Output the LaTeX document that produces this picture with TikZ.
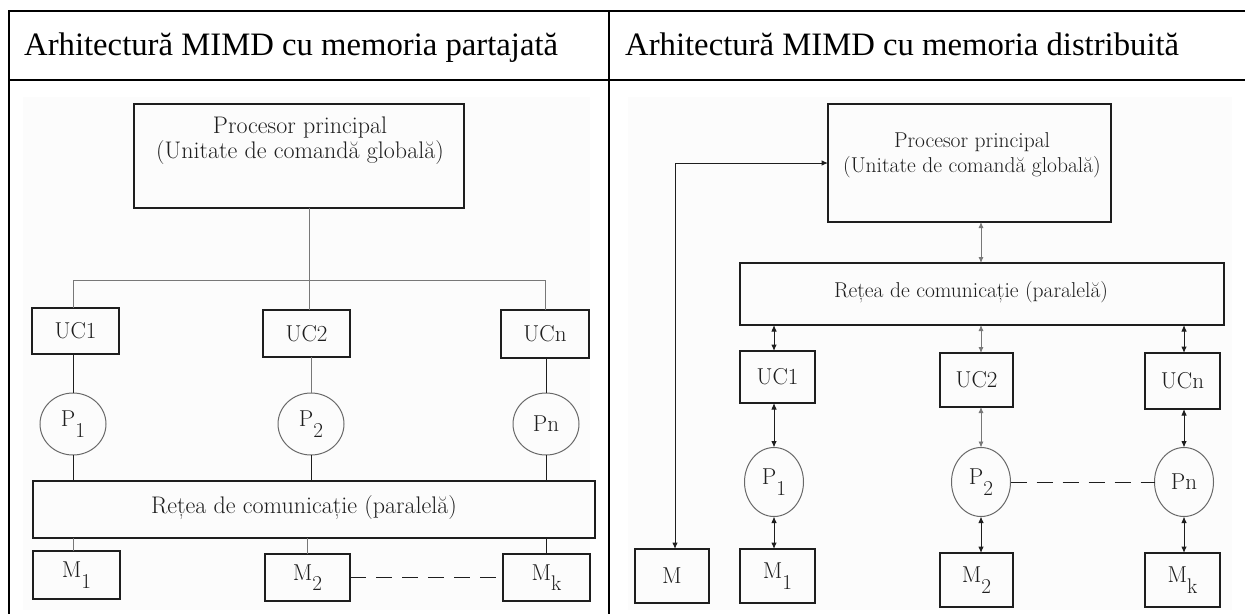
\documentclass[tikz,border=0pt]{standalone}
\usepackage{fontspec}
\newfontfamily\headfont{Liberation Serif}
\usetikzlibrary{arrows.meta,shapes.geometric}
\definecolor{ink}{RGB}{30,30,30}
\definecolor{softink}{RGB}{120,120,120}
\definecolor{ringink}{RGB}{105,105,105}
\definecolor{panel}{RGB}{252,252,252}
% lowered, slightly reduced index used in the labels P1, M1, ...
\newcommand{\lowidx}[1]{\raisebox{-0.45em}{\scalebox{0.92}{#1}}}
\begin{document}
\begin{tikzpicture}[x=1pt,y=-1pt,
  rule/.style={line width=2pt,black},
  panelbg/.style={fill=panel,draw=none},
  box/.style={draw=ink,line width=1.1pt,inner sep=0pt,outer sep=0pt,text=ink},
  proc/.style={ellipse,draw=ringink,line width=1pt,inner sep=0pt,outer sep=0pt,text=ink},
  lbig/.style={font=\fontsize{23}{25}\selectfont,text=ink},
  ltitleL/.style={font=\fontsize{24}{25}\selectfont,text=ink},
  ltitleR/.style={font=\fontsize{21.5}{25}\selectfont,text=ink},
  link/.style={draw=ink,line width=1pt},
  softlink/.style={draw=softink,line width=0.9pt},
  arr/.style={draw=ink,line width=1pt,{Latex[length=6.5pt,width=5.5pt]}-{Latex[length=6.5pt,width=5.5pt]}},
  softarr/.style={draw=softink,line width=0.8pt,{Latex[length=6pt,width=5pt]}-{Latex[length=6pt,width=5pt]}},
  dashlink/.style={draw=ink,line width=1pt,dash pattern=on 16pt off 10pt},
  head/.style={font=\headfont\fontsize{32.7}{36}\selectfont,anchor=base west,inner sep=0pt}
]
\useasboundingbox (0,0) rectangle (1245,614);

% ---------------- table frame and headings ----------------
\fill[panelbg] (23,97) rectangle (590,610);
\fill[panelbg] (628,97) rectangle (1232,610);
\draw[rule] (8,11) -- (1245,11);
\draw[rule] (8,80) -- (1245,80);
\draw[rule] (9,10) -- (9,614);
\draw[rule] (609,10) -- (609,614);
\node[head] (hL) at (24,55) {Arhitectură MIMD cu memoria partajată};
\node[head] (hR) at (625,55) {Arhitectură MIMD cu memoria distribuită};

% ---------------- shared memory ----------------
\node[box,minimum width=330pt,minimum height=104pt] (topL) at (299,156) {};
\node[ltitleL,align=center] (topLt) at (300,141) {Procesor principal\\(Unitate de comandă globală)};

\node[box,minimum width=87pt,minimum height=46pt,lbig] (UC1) at (75.5,331) {UC1};
\node[box,minimum width=87pt,minimum height=47pt,lbig] (UC2) at (306.5,333.5) {UC2};
\node[box,minimum width=88pt,minimum height=48pt,lbig] (UCn) at (545,334) {UCn};

\node[proc,minimum width=66pt,minimum height=62pt,lbig] (P1) at (73,424) {P\lowidx{1}};
\node[proc,minimum width=66pt,minimum height=62pt,lbig] (P2) at (311,424) {P\lowidx{2}};
\node[proc,minimum width=66pt,minimum height=62pt,lbig] (Pn) at (546,424) {Pn};

\node[box,minimum width=562pt,minimum height=57pt] (netL) at (314,509.5) {};
\node[ltitleL] (netLt) at (304,508) {Rețea de comunicație (paralelă)};

\node[box,minimum width=87pt,minimum height=48pt,lbig] (M1) at (76.5,575) {M\lowidx{1}};
\node[box,minimum width=85pt,minimum height=47pt,lbig] (M2) at (307.5,577.5) {M\lowidx{2}};
\node[box,minimum width=87pt,minimum height=47pt,lbig] (Mk) at (546.5,577.5) {M\lowidx{k}};

\coordinate (jL) at (309,280);
\draw[softlink] (topL.south -| jL) -- (jL);
\draw[softlink] (UC1.north -| P1) |- (UCn.north |- jL) -- (UCn.north);
\draw[softlink] (jL) -- (UC2.north -| jL);
\draw[link] (UC1.south -| P1) -- (P1.north);
\draw[softlink] (UC2.south -| P2) -- (P2.north);
\draw[link] (UCn.south -| Pn) -- (Pn.north);
\draw[link] (P1.south) -- (netL.north -| P1);
\draw[link] (P2.south) -- (netL.north -| P2);
\draw[link] (Pn.south) -- (netL.north -| Pn);
\draw[softlink] (netL.south -| P1) -- (M1.north -| P1);
\draw[softlink] (netL.south -| M2) -- (M2.north);
\draw[link] (netL.south -| Pn) -- (Mk.north -| Pn);
\draw[dashlink] (M2.east) -- (Mk.west);

% ---------------- distributed memory ----------------
\node[box,minimum width=283pt,minimum height=118pt] (topR) at (969.5,163) {};
\node[ltitleR,align=center] (topRt) at (972,155.5) {Procesor principal\\(Unitate de comandă globală)};

\node[box,minimum width=484pt,minimum height=62pt] (netR) at (982,294) {};
\node[ltitleR] (netRt) at (971,292) {Rețea de comunicație (paralelă)};

\node[box,minimum width=75pt,minimum height=52pt,lbig] (UC1R) at (777.5,377) {UC1};
\node[box,minimum width=73pt,minimum height=54pt,lbig] (UC2R) at (976.5,380) {UC2};
\node[box,minimum width=75pt,minimum height=56pt,lbig] (UCnR) at (1182.5,381) {UCn};

\node[proc,minimum width=59pt,minimum height=69pt,lbig] (P1R) at (774,482) {P\lowidx{1}};
\node[proc,minimum width=59pt,minimum height=69pt,lbig] (P2R) at (981,482) {P\lowidx{2}};
\node[proc,minimum width=59pt,minimum height=69pt,lbig] (PnR) at (1184,482) {Pn};

\node[box,minimum width=74pt,minimum height=54pt,lbig] (MR) at (672,576) {M};
\node[box,minimum width=75pt,minimum height=54pt,lbig] (M1R) at (777.5,576) {M\lowidx{1}};
\node[box,minimum width=73pt,minimum height=54pt,lbig] (M2R) at (976.5,580) {M\lowidx{2}};
\node[box,minimum width=75pt,minimum height=54pt,lbig] (MkR) at (1182.5,580) {M\lowidx{k}};

\coordinate (mline) at (675,0);
\draw[arr] (MR.north -| mline) |- (topR.west);
\draw[softarr] (topR.south -| P2R) -- (netR.north -| P2R);
\draw[arr] (netR.south -| P1R) -- (UC1R.north -| P1R);
\draw[softarr] (netR.south -| P2R) -- (UC2R.north -| P2R);
\draw[arr] (netR.south -| PnR) -- (UCnR.north -| PnR);
\draw[arr] (UC1R.south -| P1R) -- (P1R.north);
\draw[softarr] (UC2R.south -| P2R) -- (P2R.north);
\draw[arr] (UCnR.south -| PnR) -- (PnR.north);
\draw[arr] (P1R.south) -- (M1R.north -| P1R);
\draw[arr] (P2R.south) -- (M2R.north -| P2R);
\draw[arr] (PnR.south) -- (MkR.north -| PnR);
\draw[dashlink] (P2R.east) -- (PnR.west);
\end{tikzpicture}
\end{document}
